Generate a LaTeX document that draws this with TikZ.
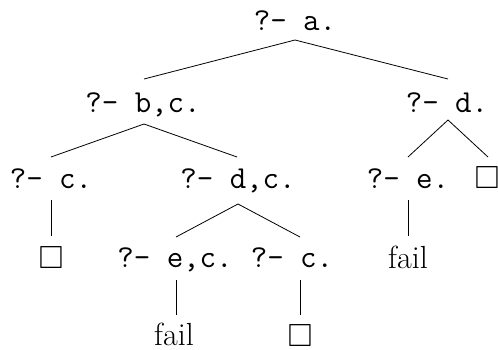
\documentclass[tikz,border=0pt]{standalone}
\usepackage{amssymb}
\begin{document}
\begin{tikzpicture}[x=1pt,y=-1pt,
  goal/.style={inner sep=0pt,anchor=base,font=\fontsize{32}{38}\selectfont\ttfamily},
  leaf/.style={inner sep=0pt,anchor=base,font=\fontsize{32}{38}\selectfont},
  edge/.style={line width=0.8pt}]
\useasboundingbox (0,0) rectangle (498,349);
\node[goal] (a)  at (295,30) {?- a.};
\node[goal] (bc) at (143,112) {?- b,c.};
\node[goal] (d)  at (447,112) {?- d.};
\node[goal] (c3) at (51,188) {?- c.};
\node[goal] (dc) at (238,188) {?- d,c.};
\node[goal] (e3) at (408,188) {?- e.};
\node[leaf] (b3) at (487,188) {$\square$};
\node[leaf] (b4) at (51,268) {$\square$};
\node[goal] (ec) at (175,267) {?- e,c.};
\node[goal] (c4) at (292,267) {?- c.};
\node[leaf] (f4) at (408,268) {fail};
\node[leaf] (f5) at (174,345) {fail};
\node[leaf] (b5) at (300,346) {$\square$};
\draw[edge] ([shift={(0,10)}]a.base) -- ([shift={(1,-33)}]bc.base);
\draw[edge] ([shift={(0,10)}]a.base) -- ([shift={(1,-33)}]d.base);
\draw[edge] ([shift={(1,12)}]bc.base) -- ([shift={(0,-31)}]c3.base);
\draw[edge] ([shift={(1,12)}]bc.base) -- ([shift={(-1,-31)}]dc.base);
\draw[edge] ([shift={(1,8)}]d.base) -- ([shift={(0,-31)}]e3.base);
\draw[edge] ([shift={(1,8)}]d.base) -- ([shift={(1,-31)}]b3.base);
\draw[edge] ([shift={(0,12)}]c3.base) -- ([shift={(0,-32)}]b4.base);
\draw[edge] ([shift={(0,16)}]dc.base) -- ([shift={(1,-30)}]ec.base);
\draw[edge] ([shift={(0,16)}]dc.base) -- ([shift={(8,-30)}]c4.base);
\draw[edge] ([shift={(0,12)}]e3.base) -- ([shift={(0,-32)}]f4.base);
\draw[edge] ([shift={(1,13)}]ec.base) -- ([shift={(2,-30)}]f5.base);
\draw[edge] ([shift={(8,13)}]c4.base) -- ([shift={(0,-31)}]b5.base);
\end{tikzpicture}
\end{document}
